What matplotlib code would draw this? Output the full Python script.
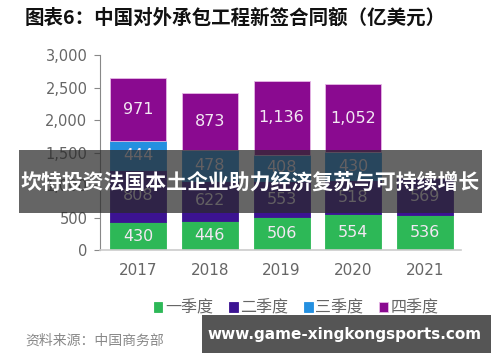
import matplotlib
matplotlib.use("Agg")
import matplotlib.pyplot as plt
from matplotlib.patches import Rectangle
import numpy as np

# ====== Data ======
years = ["2017", "2018", "2019", "2020", "2021"]
q1 = [430, 446, 506, 554, 536]
q2 = [808, 622, 553, 518, 569]
q3 = [444, 478, 408, 430, 0]
q4 = [971, 873, 1136, 1052, 0]
quarter_names = ["一季度", "二季度", "三季度", "四季度"]
colors = ["#2db857", "#3c1392", "#2490e0", "#8a0a90"]

title = "图表6：中国对外承包工程新签合同额（亿美元）"
source = "资料来源：中国商务部"
banner = "坎特投资法国本土企业助力经济复苏与可持续增长"
watermark = "www.game-xingkongsports.com"

CJK = ["Noto Sans CJK SC", "DejaVu Sans"]
plt.rcParams["font.family"] = ["DejaVu Sans", "Noto Sans CJK SC"]

fig = plt.figure(figsize=(5.0, 3.62), dpi=100)
ax = fig.add_axes([0.2, 0.309, 0.722, 0.539])

x = np.arange(len(years))
series = [q1, q2, q3, q4]
bottom = np.zeros(len(years))
handles = []
for vals, col, name in zip(series, colors, quarter_names):
    vals = np.array(vals, dtype=float)
    edge = "#e6b8e6" if col == colors[3] else col
    bars = ax.bar(x, vals, 0.78, bottom=bottom, color=col, edgecolor=edge,
                  linewidth=0.6, label=name)
    handles.append(bars)
    for xi, v, b in zip(x, vals, bottom):
        if v <= 0:
            continue
        ax.text(xi, b + v / 2, f"{int(v):,}", ha="center", va="center",
                color="#f3e8f3", fontsize=11.5)
    bottom += vals

ax.set_xlim(-0.53, 4.5)
ax.set_ylim(0, 3000)
ax.set_yticks(np.arange(0, 3001, 500))
ax.set_yticklabels([f"{v:,}" for v in range(0, 3001, 500)])
ax.set_xticks(x)
ax.set_xticklabels(years)
ax.tick_params(axis="y", colors="#888888", labelcolor="#666666", labelsize=10.5,
               length=4, width=0.8, pad=5)
ax.tick_params(axis="x", length=0, labelcolor="#666666", labelsize=11, pad=9)
for s in ["top", "right"]:
    ax.spines[s].set_visible(False)
ax.spines["left"].set_color("#888888")
ax.spines["bottom"].set_color("#cccccc")
ax.spines["bottom"].set_linewidth(1.2)

fig.text(0.05, 0.95, title, fontsize=14, fontweight="bold", color="#111111",
         ha="left", va="center", family=CJK)

leg = fig.legend(handles=handles, labels=quarter_names, loc="center",
                 bbox_to_anchor=(0.592, 0.148), ncol=4, frameon=False,
                 handlelength=0.55, handleheight=0.55, handletextpad=0.15,
                 columnspacing=1.0, prop={"family": CJK, "size": 11.5})
for t in leg.get_texts():
    t.set_color("#666666")

fig.text(0.05, 0.058, source, fontsize=10, color="#888888",
         ha="left", va="center", family=CJK)

# overlay banner
fig.patches.append(Rectangle((0.038, 1 - 213 / 362), 0.926, 63 / 362,
                             transform=fig.transFigure, facecolor="#2a2a2a",
                             alpha=0.72, edgecolor="none", zorder=10))
fig.text(0.5, 1 - 182 / 362, banner, fontsize=15, fontweight="bold",
         color="white", ha="center", va="center", family=CJK, zorder=11)

# watermark box
fig.patches.append(Rectangle((0.404, 1 - 353 / 362), 0.578, 38 / 362,
                             transform=fig.transFigure, facecolor="#555555",
                             edgecolor="none", zorder=10))
fig.text(0.69, 1 - 334 / 362, watermark, fontsize=11, fontweight="bold",
         color="white", ha="center", va="center", zorder=11)

fig.savefig("out.png", dpi=100)
